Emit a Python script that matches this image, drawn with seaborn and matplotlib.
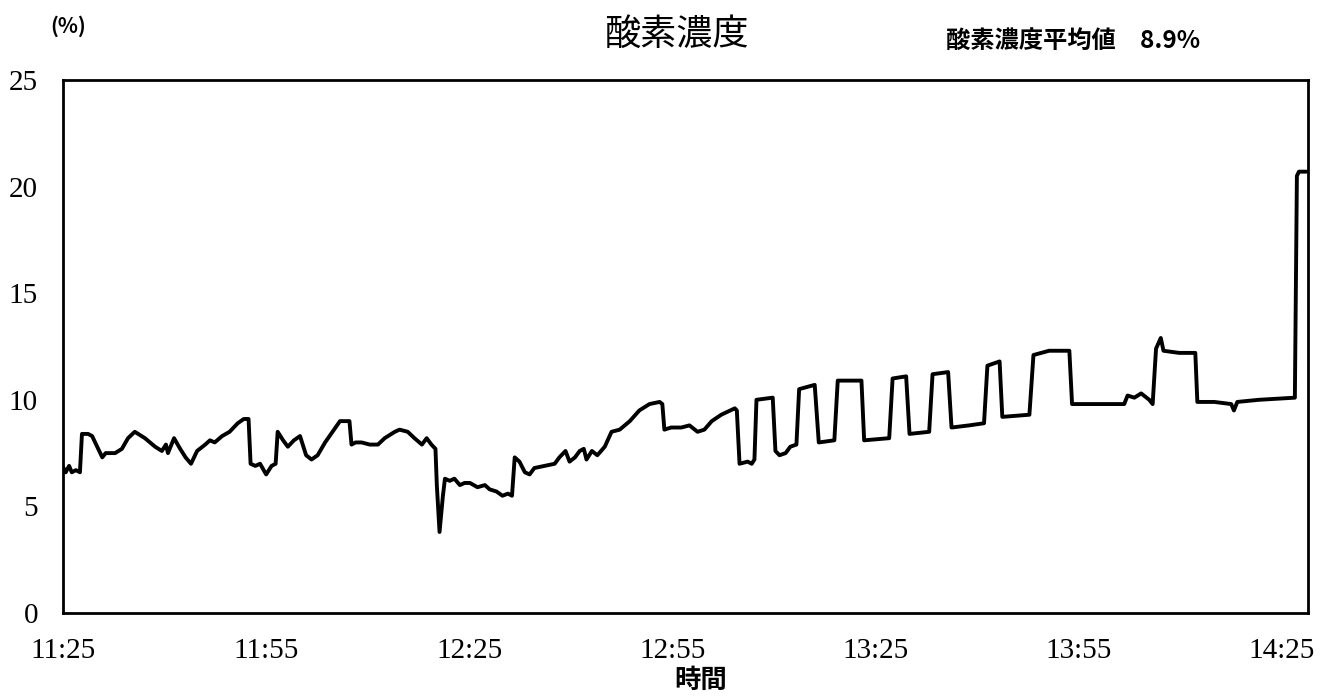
import matplotlib
matplotlib.use("Agg")
import matplotlib.pyplot as plt
import seaborn as sns
import pandas as pd

# minutes after 11:25
minutes = [0, 0.4, 0.9, 1.3, 1.9, 2.5, 2.8, 3.7, 4.3, 4.9, 5.8, 6.3, 7.7, 8.7, 9.6, 10.6, 12.1, 13.6, 14.6, 15.2,
           15.5, 16.4, 17.3, 18.1, 18.9, 19.8, 21.0, 21.7, 22.4, 23.5, 24.6, 25.8, 26.7, 27.4, 27.7, 28.4, 29.1,
           30.0, 30.8, 31.4, 31.7, 32.5, 33.2, 34.1, 35.0, 35.9, 36.7, 37.6, 38.7, 39.8, 40.9, 42.3, 42.6, 43.2,
           44.1, 45.3, 46.5, 47.5, 49.0, 49.7, 50.9, 51.9, 53.0, 53.7, 54.4, 55.0, 55.2, 55.6, 56.1, 56.4, 57.1,
           57.8, 58.6, 59.3, 60.1, 61.2, 62.3, 63.0, 64.0, 64.9, 65.7, 66.3, 66.7, 67.4, 68.2, 68.9, 69.6, 71.1,
           72.6, 73.3, 74.2, 74.8, 75.6, 76.3, 76.9, 77.3, 78.1, 78.9, 80.0, 81.0, 82.2, 83.7, 85.1, 86.6, 88.1,
           88.5, 88.8, 89.8, 91.3, 92.5, 93.7, 94.7, 95.8, 97.2, 99.2, 99.5, 99.9, 101.1, 101.7, 102.1, 102.4,
           104.8, 105.2, 105.8, 106.7, 107.4, 108.3, 108.7, 111.0, 111.6, 113.9, 114.4, 117.9, 118.3, 122.0,
           122.5, 124.5, 125.0, 127.9, 128.4, 130.7, 131.2, 133.8, 136.0, 136.5, 138.3, 138.7, 142.7, 143.3,
           145.6, 148.6, 149.0, 153.0, 156.7, 157.2, 158.2, 159.2, 160.4, 160.9, 161.4, 162.1, 162.5, 164.8,
           167.2, 167.5, 170.0, 172.5, 172.9, 173.4, 176.6, 181.9, 182.2, 182.5, 183.6]
oxygen = [6.85, 6.6, 6.9, 6.6, 6.7, 6.6, 8.4, 8.4, 8.3, 7.9, 7.3, 7.5, 7.5, 7.7, 8.2, 8.5, 8.2, 7.8, 7.6, 7.9,
          7.5, 8.2, 7.7, 7.3, 7.0, 7.6, 7.9, 8.1, 8.0, 8.3, 8.5, 8.9, 9.1, 9.1, 7.0, 6.9, 7.0,
          6.5, 6.9, 7.0, 8.5, 8.1, 7.8, 8.1, 8.3, 7.4, 7.2, 7.4, 8.0, 8.5, 9.0, 9.0, 7.9, 8.0,
          8.0, 7.9, 7.9, 8.2, 8.5, 8.6, 8.5, 8.2, 7.9, 8.2, 7.9, 7.7, 6.0, 3.8, 5.5, 6.3, 6.2,
          6.3, 6.0, 6.1, 6.1, 5.9, 6.0, 5.8, 5.7, 5.5, 5.6, 5.5, 7.3, 7.1, 6.6, 6.5, 6.8, 6.9,
          7.0, 7.3, 7.6, 7.1, 7.3, 7.6, 7.7, 7.2, 7.6, 7.4, 7.8, 8.5, 8.6, 9.0, 9.5, 9.8, 9.9,
          9.8, 8.6, 8.7, 8.7, 8.8, 8.5, 8.6, 9.0, 9.3, 9.6, 9.5, 7.0, 7.1, 7.0, 7.2, 10.0,
          10.1, 7.6, 7.4, 7.5, 7.8, 7.9, 10.5, 10.7, 8.0, 8.1, 10.9, 10.9, 8.1, 8.2,
          11.0, 11.1, 8.4, 8.5, 11.2, 11.3, 8.7, 8.8, 8.9, 11.6, 11.8, 9.2, 9.3, 12.1,
          12.3, 12.3, 9.8, 9.8, 9.8, 10.2, 10.1, 10.3, 10.0, 9.8, 12.4, 12.9, 12.3, 12.2,
          12.2, 9.9, 9.9, 9.8, 9.5, 9.9, 10.0, 10.1, 20.5, 20.7, 20.7]

x_ticks = [0, 30, 60, 90, 120, 150, 180]
x_tick_labels = ["11:25", "11:55", "12:25", "12:55", "13:25", "13:55", "14:25"]
y_ticks = [0, 5, 10, 15, 20, 25]

title = "酸素濃度"
avg_text = "酸素濃度平均値　8.9%"
unit_text = "(%)"
x_label = "時間"

sns.set_theme(style="white")
plt.rcParams['font.family'] = ['Noto Sans CJK JP', 'DejaVu Sans']
plt.rcParams['text.color'] = 'black'
plt.rcParams['xtick.color'] = 'black'
plt.rcParams['ytick.color'] = 'black'

df = pd.DataFrame({"minutes": minutes, "oxygen": oxygen})

fig = plt.figure(figsize=(13.29, 6.99), dpi=100)
ax = fig.add_axes([0.0474, 0.123, 0.9366, 0.7626])
sns.lineplot(data=df, x="minutes", y="oxygen", ax=ax, color="black", linewidth=2.8, sort=False)

serif = ['Liberation Serif', 'DejaVu Serif']
ax.set_xlim(0, 183.8)
ax.set_ylim(0, 25)
ax.set_xticks(x_ticks)
ax.set_xticklabels(x_tick_labels, family=serif, fontsize=21, color='black')
ax.set_yticks(y_ticks)
ax.set_yticklabels([str(v) for v in y_ticks], family=serif, fontsize=21, color='black')
ax.tick_params(axis='both', direction='in', length=4, width=1, color='black')
ax.tick_params(axis='x', pad=18)
ax.tick_params(axis='y', pad=18)
for s in ax.spines.values():
    s.set_visible(True)
    s.set_color('black')
    s.set_linewidth(2)
ax.set_xlabel("")
ax.set_ylabel("")
ax.grid(False)

fig.text(0.5087, 0.95, title, ha='center', va='center', fontsize=26, color='black')
fig.text(0.712, 0.942, avg_text, ha='left', va='center', fontsize=17.5, fontweight='bold', color='black')
fig.text(0.038, 0.962, unit_text, ha='left', va='center', fontsize=15, fontweight='bold', color='black')
fig.text(0.527, 0.026, x_label, ha='center', va='center', fontsize=19, fontweight='bold', color='black')

fig.savefig("out.png", dpi=100, facecolor='white')
